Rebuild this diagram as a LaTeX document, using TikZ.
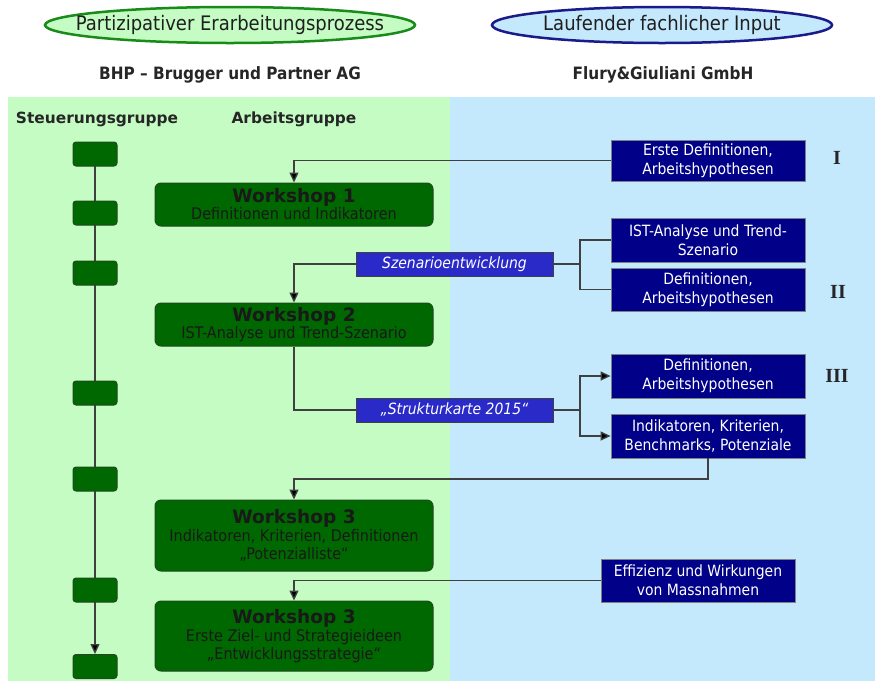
\documentclass[tikz,border=0pt]{standalone}
\usepackage{fontspec}
\setmainfont{DejaVu Sans}
\newfontfamily\tah{DejaVu Sans Condensed}
\newfontfamily\rom{Liberation Serif}
\newcommand\wsfont{\normalfont\bfseries\fontsize{18.5}{18}\selectfont}
\usetikzlibrary{arrows.meta,shapes.geometric}
\definecolor{pgreen}{HTML}{C4FCC4}
\definecolor{pblue}{HTML}{C4E8FC}
\definecolor{dgreen}{HTML}{006800}
\definecolor{dgreenb}{HTML}{1E4A1E}
\definecolor{navy}{HTML}{000088}
\definecolor{mblue}{HTML}{2A2AC8}
\definecolor{egreen}{HTML}{1A8A1A}
\definecolor{eblue}{HTML}{1A1A8A}
\definecolor{lgrey}{HTML}{404040}
\tikzset{
  sbox/.style={fill=dgreen,draw=dgreenb,line width=1pt,rounded corners=3pt,minimum width=44pt,minimum height=24pt,inner sep=0pt},
  wbox/.style={fill=dgreen,draw=dgreenb,line width=1pt,rounded corners=6pt,minimum width=278pt,inner sep=0pt,align=center,text=black!90,font=\tah\fontsize{16}{18}\selectfont},
  nbox/.style={fill=navy,draw=gray,line width=0.8pt,minimum width=194pt,inner sep=0pt,align=center,text=white,font=\tah\fontsize{15.5}{19}\selectfont},
  ibox/.style={fill=mblue,draw=lgrey,line width=0.8pt,minimum width=197pt,minimum height=24pt,inner sep=0pt,text=white,font=\tah\itshape\fontsize{15.5}{16}\selectfont},
  conn/.style={draw=lgrey,line width=1.3pt},
  arr/.style={conn,-{Triangle[length=10pt,width=9pt,fill=black]}},
  hdr/.style={font=\bfseries\fontsize{15.4}{16}\selectfont,text=black!85},
  romn/.style={font=\rom\bfseries\fontsize{20}{20}\selectfont,text=black!85},
  ell/.style={ellipse,line width=2.5pt,minimum height=36pt,inner sep=0pt},
  etext/.style={font=\tah\fontsize{20}{20}\selectfont,text=black!88}
}
\begin{document}
\begin{tikzpicture}[x=1pt,y=-1pt]
\useasboundingbox (0,0) rectangle (875,681);
\fill[white] (0,0) rectangle (875,681);
% panels
\fill[pgreen] (8,97) rectangle (450,681);
\fill[pblue] (450,97) rectangle (875,681);
% ellipses
\node[ell,draw=egreen,fill=pgreen,minimum width=370pt,label={[etext]center:Partizipativer Erarbeitungsprozess}] (e1) at (230,25) {};
\node[ell,draw=eblue,fill=pblue,minimum width=340pt,label={[etext]center:Laufender fachlicher Input}] (e2) at (662,25) {};
\node[font=\tah\bfseries\fontsize{17}{18}\selectfont,text=black!85] (bhp) at (230,75) {BHP – Brugger und Partner AG};
\node[font=\tah\bfseries\fontsize{17}{18}\selectfont,text=black!85] (fg) at (663,75) {Flury\&Giuliani GmbH};
\node[hdr] (hs) at (97,119) {Steuerungsgruppe};
\node[hdr] (ha) at (294,119) {Arbeitsgruppe};
% steering line
\coordinate (lt) at (95,160);
\coordinate (lb) at (95,654);
\draw[arr] (lt) -- (lb);
% steering boxes
\node[sbox] (s1) at (95,154) {};
\node[sbox] (s2) at (95,213) {};
\node[sbox] (s3) at (95,273) {};
\node[sbox] (s4) at (95,393) {};
\node[sbox] (s5) at (95,479) {};
\node[sbox] (s6) at (95,590) {};
\node[sbox,anchor=north] (s7) at (95,654) {};
% workshops
\node[wbox,minimum height=43pt] (w1) at (294,204.5) {{\wsfont Workshop 1}\\[-1pt]Definitionen und Indikatoren};
\node[wbox,minimum height=43pt] (w2) at (294,324.5) {{\wsfont Workshop 2}\\[-1pt]IST-Analyse und Trend-Szenario};
\node[wbox,minimum height=71pt] (w3) at (294,535.5) {{\wsfont Workshop 3}\\Indikatoren, Kriterien, Definitionen\\„Potenzialliste“};
\node[wbox,minimum height=70pt] (w4) at (294,636) {{\wsfont Workshop 3}\\Erste Ziel- und Strategieideen\\„Entwicklungsstrategie“};
% navy boxes
\node[nbox,minimum height=41pt] (n1) at (708,160.5) {Erste Definitionen,\\Arbeitshypothesen};
\node[nbox,minimum height=44pt] (n2) at (708,240) {IST-Analyse und Trend-\\Szenario};
\node[nbox,minimum height=43pt] (n3) at (708,289.5) {Definitionen,\\Arbeitshypothesen};
\node[nbox,minimum height=44pt] (n4) at (708,376) {Definitionen,\\Arbeitshypothesen};
\node[nbox,minimum height=44pt] (n5) at (708,436) {Indikatoren, Kriterien,\\Benchmarks, Potenziale};
\node[nbox,minimum height=43pt] (n6) at (698,580.5) {Effizienz und Wirkungen\\von Massnahmen};
% italic boxes
\node[ibox] (i1) at (454.5,264) {Szenarioentwicklung};
\node[ibox] (i2) at (454.5,410) {„Strukturkarte 2015“};
% roman numerals
\node[romn] (r1) at (837,158) {I};
\node[romn] (r2) at (838,292) {II};
\node[romn] (r3) at (837,376) {III};
% connectors
\draw[arr] (n1.west) -| (w1.north);
\draw[arr] (i1.west) -| (w2.north);
\coordinate (b1) at (580,264);
\draw[conn] (i1.east) -- (b1);
\draw[conn] (n2.west) -| (b1) |- (n3.west);
\draw[conn] (w2.south) |- (i2.west);
\coordinate (b2) at (580,410);
\draw[conn] (i2.east) -- (b2);
\draw[arr] (b2) |- (n4.west);
\draw[arr] (b2) |- (n5.west);
\coordinate (k1) at (708,479);
\draw[arr] (n5.south) -- (k1) -| (w3.north);
\draw[arr] (n6.west) -| (w4.north);
\end{tikzpicture}
\end{document}
